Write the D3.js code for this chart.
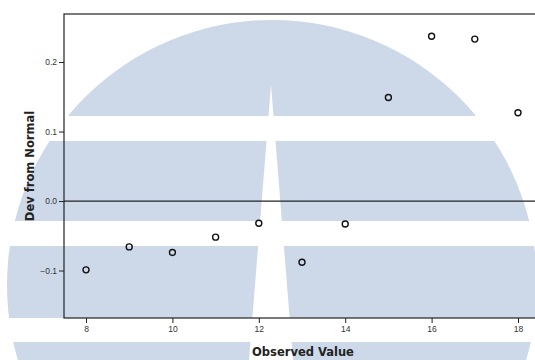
<!DOCTYPE html>
<html>
<head>
<meta charset="utf-8">
<script src="https://cdn.jsdelivr.net/npm/d3@7"></script>
<style>
  body { margin: 0; background: #fff; }
  svg { display: block; }
</style>
</head>
<body>
<svg width="535" height="360"></svg>
<script>
// detrended normal Q-Q plot values
var observed = [8, 9, 10, 11, 12, 13, 14, 15, 16, 17, 18];
var devFromNormal = [-0.099, -0.066, -0.074, -0.052, -0.032, -0.088, -0.033, 0.149, 0.237, 0.233, 0.127];
var xTicks = [8, 10, 12, 14, 16, 18];
var yTicks = [-0.1, 0.0, 0.1, 0.2];

var svg = d3.select("svg");

// background watermark (light blue disc cut by white bands)
var wm = svg.append("g");
wm.append("circle")
  .attr("cx", 272).attr("cy", 285).attr("r", 265)
  .attr("fill", "#cdd9e9");
[[116, 141], [221, 246], [318, 342]].forEach(function(b) {
  wm.append("rect").attr("x", 0).attr("y", b[0]).attr("width", 535).attr("height", b[1] - b[0]).attr("fill", "#fff");
});
wm.append("path")
  .attr("d", "M271,85 L293,360 L249,360 Z")
  .attr("fill", "#fff");

var pLeft = 64, pTop = 14, pBottom = 318, pRight = 537;

var x = d3.scaleLinear().domain([7.49, 18.44]).range([pLeft, pRight]);
var y = d3.scaleLinear().domain([-0.1683, 0.2691]).range([pBottom, pTop]);

// frame
svg.append("rect")
  .attr("x", pLeft).attr("y", pTop)
  .attr("width", pRight - pLeft).attr("height", pBottom - pTop)
  .attr("fill", "none").attr("stroke", "#222").attr("stroke-width", 1.2);

// zero line
svg.append("line")
  .attr("x1", pLeft).attr("x2", pRight)
  .attr("y1", y(0)).attr("y2", y(0))
  .attr("stroke", "#222").attr("stroke-width", 1.2);

var xAxis = svg.append("g")
  .attr("transform", "translate(0," + pBottom + ")")
  .call(d3.axisBottom(x).tickValues(xTicks).tickSize(5).tickPadding(3).tickFormat(d3.format("d")));
var yAxis = svg.append("g")
  .attr("transform", "translate(" + pLeft + ",0)")
  .call(d3.axisLeft(y).tickValues(yTicks).tickSize(5).tickPadding(2).tickFormat(d3.format(".1f")));

[xAxis, yAxis].forEach(function(a) {
  a.select(".domain").remove();
  a.selectAll("line").attr("stroke", "#222");
  a.selectAll("text").attr("font-family", "Liberation Sans, Arial, sans-serif").attr("font-size", "8.5px").attr("fill", "#333");
});

// points
svg.selectAll(".pt")
  .data(observed)
  .enter().append("circle")
  .attr("class", "pt")
  .attr("cx", function(d) { return x(d); })
  .attr("cy", function(d, i) { return y(devFromNormal[i]); })
  .attr("r", 3)
  .attr("fill", "none")
  .attr("stroke", "#111")
  .attr("stroke-width", 1.4);

// axis titles
svg.append("text")
  .attr("x", 303).attr("y", 356)
  .attr("text-anchor", "middle")
  .attr("font-family", "DejaVu Sans, Verdana, sans-serif")
  .attr("font-weight", "bold").attr("font-size", "11.5px").attr("fill", "#222")
  .text("Observed Value");

svg.append("text")
  .attr("transform", "translate(34,166) rotate(-90)")
  .attr("text-anchor", "middle")
  .attr("font-family", "DejaVu Sans, Verdana, sans-serif")
  .attr("font-weight", "bold").attr("font-size", "11.5px").attr("fill", "#222")
  .text("Dev from Normal");
</script>
</body>
</html>
